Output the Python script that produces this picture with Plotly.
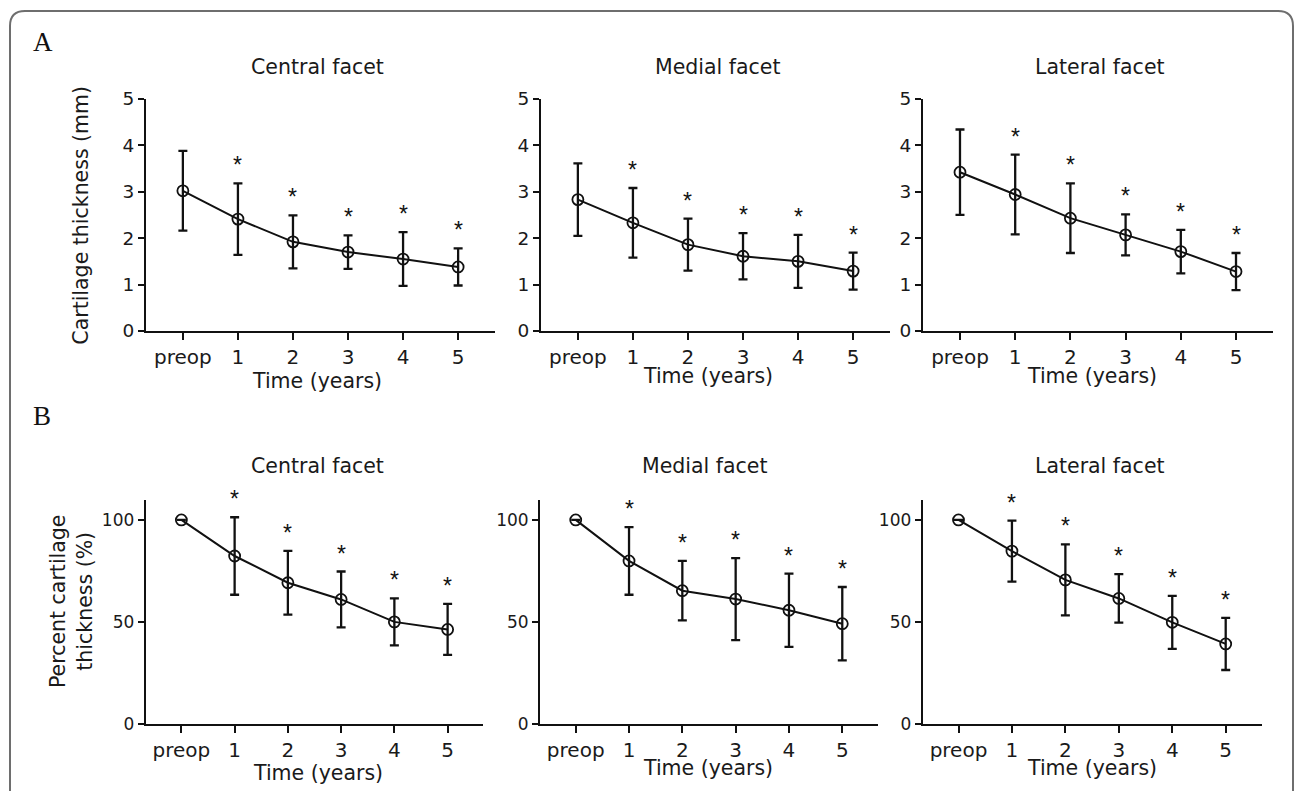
import plotly.graph_objects as go

# ---------------- data ----------------
time_labels = ["preop", "1", "2", "3", "4", "5"]
time_pos = [0, 1, 2, 3, 4, 5]

facets = ["Central facet", "Medial facet", "Lateral facet"]

# Panel A: cartilage thickness (mm), mean and SD
A_central_mean = [3.02, 2.41, 1.92, 1.70, 1.55, 1.38]
A_central_sd = [0.86, 0.77, 0.57, 0.36, 0.58, 0.40]
A_medial_mean = [2.83, 2.33, 1.86, 1.61, 1.50, 1.29]
A_medial_sd = [0.78, 0.75, 0.56, 0.50, 0.57, 0.40]
A_lateral_mean = [3.42, 2.94, 2.43, 2.07, 1.71, 1.28]
A_lateral_sd = [0.92, 0.86, 0.75, 0.44, 0.47, 0.40]
A_signif = [False, True, True, True, True, True]

# Panel B: percent cartilage thickness (%), mean and SD
B_central_mean = [100, 82.3, 69.2, 61.0, 50.0, 46.3]
B_central_sd = [None, 19.0, 15.6, 13.7, 11.5, 12.5]
B_medial_mean = [100, 79.9, 65.3, 61.2, 55.7, 49.1]
B_medial_sd = [None, 16.6, 14.6, 20.1, 18.0, 18.0]
B_lateral_mean = [100, 84.7, 70.6, 61.5, 49.8, 39.2]
B_lateral_sd = [None, 15.0, 17.4, 11.9, 13.0, 12.8]
B_signif = [False, True, True, True, True, True]

A_yticks = [0, 1, 2, 3, 4, 5]
B_yticks = [0, 50, 100]

# ---------------- layout helpers ----------------
W, H = 1295, 791
X0, SX = 0.0, 1.0     # screen x = X0 + SX * figure x
Y0, SY = 10.0, 0.975  # screen y = Y0 + SY * figure y
FONT = "DejaVu Sans, Liberation Sans, Arial, sans-serif"
STAR_FONT = "Liberation Sans, Arial, sans-serif"
TXT = "#1a1a1a"


def fx(px):
    return ((px - X0) / SX) / W


def fy(py):
    return 1 - ((py - Y0) / SY) / H


A_xdom = [(146, 495), (541, 890), (923, 1273)]
B_xdom = [(145.7, 483.3), (540, 878), (922.7, 1261.5)]
A_ydom = (98, 330.5)
B_ydom = (499.3, 724)

A_title_x = [317, 717, 1100]
B_title_x = [317, 704, 1100]
A_xtitle = [(317, 381), (708, 376), (1092, 376)]
B_xtitle = [(318, 773), (708, 768), (1092, 768)]

fig = go.Figure()
layout = dict(
    width=W, height=H,
    margin=dict(l=0, r=0, t=0, b=0),
    paper_bgcolor="white", plot_bgcolor="white",
    showlegend=False,
    font=dict(family=FONT, color=TXT),
)
annotations = []

panels = [
    ("A", [(A_central_mean, A_central_sd), (A_medial_mean, A_medial_sd), (A_lateral_mean, A_lateral_sd)],
     A_signif, A_xdom, A_ydom, [0, 5], A_yticks, 18.5),
    ("B", [(B_central_mean, B_central_sd), (B_medial_mean, B_medial_sd), (B_lateral_mean, B_lateral_sd)],
     B_signif, B_xdom, B_ydom, [0, 110], B_yticks, 17),
]

idx = 0
for pi, (pname, series, signif, xdoms, ydom, yrange, yticks, ytfs) in enumerate(panels):
    for ci, (mean, sd) in enumerate(series):
        idx += 1
        xa = "x" if idx == 1 else f"x{idx}"
        ya = "y" if idx == 1 else f"y{idx}"
        xkey = "xaxis" if idx == 1 else f"xaxis{idx}"
        ykey = "yaxis" if idx == 1 else f"yaxis{idx}"
        fig.add_trace(go.Scatter(
            x=time_pos, y=mean, xaxis=xa, yaxis=ya,
            mode="lines+markers",
            line=dict(color="#111", width=2),
            marker=dict(symbol="circle-open", size=11, color="#111", line=dict(width=1.8)),
            error_y=dict(type="data", array=sd, visible=True, color="#111", thickness=2.3, width=4.5),
            hoverinfo="skip",
        ))
        layout[xkey] = dict(
            domain=[fx(xdoms[ci][0]), fx(xdoms[ci][1])], anchor=ya,
            range=[-0.67, 5.67], tickvals=time_pos, ticktext=time_labels,
            showgrid=False, zeroline=False, showline=True, linecolor="#111", linewidth=2,
            ticks="outside", ticklen=7, tickwidth=2, tickcolor="#111",
            tickfont=dict(size=20, color=TXT, family=FONT), fixedrange=True,
        )
        layout[ykey] = dict(
            domain=[fy(ydom[1]), fy(ydom[0])], anchor=xa,
            range=yrange, tickvals=yticks,
            showgrid=False, zeroline=False, showline=True, linecolor="#111", linewidth=2,
            ticks="outside", ticklen=6, tickwidth=2, tickcolor="#111",
            tickfont=dict(size=ytfs, color=TXT, family=FONT), fixedrange=True,
        )
        # significance asterisks above the error bars
        for xi, m, s, sig in zip(time_pos, mean, sd, signif):
            if sig:
                annotations.append(dict(
                    x=xi, y=m + (s or 0), xref=xa, yref=ya, text="*", showarrow=False,
                    yanchor="bottom", yshift=3, font=dict(size=23, color="#111", family=STAR_FONT),
                ))
        # facet titles
        tx = (A_title_x if pname == "A" else B_title_x)[ci]
        ty = 66 if pname == "A" else 466
        annotations.append(dict(
            x=fx(tx), y=fy(ty), xref="paper", yref="paper", text=facets[ci], showarrow=False,
            xanchor="center", yanchor="middle", font=dict(size=20.5, color=TXT, family=FONT),
        ))
        # x axis titles
        xt = (A_xtitle if pname == "A" else B_xtitle)[ci]
        annotations.append(dict(
            x=fx(xt[0]), y=fy(xt[1]), xref="paper", yref="paper", text="Time (years)", showarrow=False,
            xanchor="center", yanchor="middle", font=dict(size=20.5, color=TXT, family=FONT),
        ))

# y axis titles
annotations.append(dict(
    x=fx(81), y=fy(215), xref="paper", yref="paper", text="Cartilage thickness (mm)",
    showarrow=False, textangle=-90, xanchor="center", yanchor="middle",
    font=dict(size=20.5, color=TXT, family=FONT),
))
annotations.append(dict(
    x=fx(71), y=fy(601), xref="paper", yref="paper", text="Percent cartilage<br>thickness (%)",
    showarrow=False, textangle=-90, xanchor="center", yanchor="middle",
    font=dict(size=20.5, color=TXT, family=FONT),
))
# panel letters
for letter, (lx, ly) in [("A", (43, 41)), ("B", (42, 416))]:
    annotations.append(dict(
        x=fx(lx), y=fy(ly), xref="paper", yref="paper", text=letter, showarrow=False,
        xanchor="center", yanchor="middle",
        font=dict(size=27, color="#111", family="Liberation Serif, Times New Roman, serif"),
    ))

layout["annotations"] = annotations

# rounded frame around the figure (open at the bottom)
r = 15
L, T, R, B = 10, 10, 1293, 800
path = (f"M {fx(L)},{fy(B)} L {fx(L)},{fy(T + r)} Q {fx(L)},{fy(T)} {fx(L + r)},{fy(T)} "
        f"L {fx(R - r)},{fy(T)} Q {fx(R)},{fy(T)} {fx(R)},{fy(T + r)} L {fx(R)},{fy(B)}")
layout["shapes"] = [dict(type="path", xref="paper", yref="paper", path=path,
                         line=dict(color="#6e6e6e", width=2))]

fig.update_layout(**layout)
fig.write_html("out.html", config={"displayModeBar": False, "staticPlot": True},
               post_script="document.body.style.margin='0';")
